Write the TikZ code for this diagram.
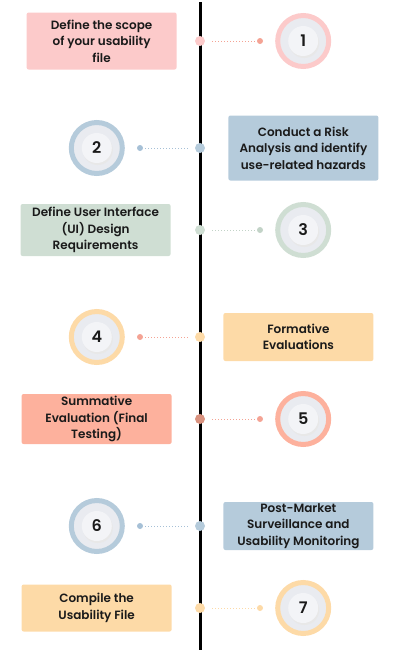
\documentclass[tikz,border=0pt]{standalone}
\usepackage{fontspec}
\setmainfont{Poppins}[UprightFont={* Medium}, BoldFont={* SemiBold}]
\usetikzlibrary{positioning}
\definecolor{pinkc}{HTML}{FCCACA}
\definecolor{bluec}{HTML}{B5CBDB}
\definecolor{greenc}{HTML}{CFDED3}
\definecolor{orangec}{HTML}{FDDAA7}
\definecolor{salmonc}{HTML}{FDB19D}
\definecolor{linkred}{HTML}{F4A394}
\definecolor{linkblue}{HTML}{A6C0D6}
\definecolor{linkgreen}{HTML}{C2D3C7}
\definecolor{dotdark}{HTML}{D9927F}
\definecolor{discgray}{HTML}{E9EBF0}
\definecolor{innergray}{HTML}{F3F4F7}
\definecolor{inkc}{HTML}{1A1A1A}
\tikzset{
  stepbox/.style={rectangle, rounded corners=2pt, minimum width=150pt, inner ysep=2pt,
    align=center, text=inkc, font=\fontsize{12}{16.5}\selectfont\bfseries},
  linedot/.style={circle, minimum size=10pt, inner sep=0pt},
  enddot/.style={circle, minimum size=6pt, inner sep=0pt},
  numring/.style={circle, draw=#1, line width=5pt, minimum size=51pt, inner sep=0pt,
    fill=discgray, text=inkc, font=\fontsize{16}{16}\selectfont\bfseries,
    path picture={
      \fill[black!9] ([shift={(1pt,-2pt)}]path picture bounding box.center) circle (15pt);
      \fill[innergray] (path picture bounding box.center) circle (15pt);
    }},
  link/.style={line width=1pt, dash pattern=on 1pt off 2pt, shorten <=7pt}
}
\begin{document}
\begin{tikzpicture}[x=1pt, y=-1pt]
  \useasboundingbox (0,0) rectangle (400,670);
  \coordinate (top) at (200,2);
  \coordinate (bottom) at (200,650);
  \draw[line width=3pt] (top) -- (bottom);

  % step 1
  \node[linedot, fill=pinkc] (d1) at (200,41) {};
  \node[stepbox, fill=pinkc, minimum height=57pt, left=18pt of d1] (s1) {Define the scope\\of your usability\\file};
  \node[numring=pinkc, right=70pt of d1] (c1) {1};
  \node[enddot, fill=linkred, left=12pt of c1] (e1) {};
  \draw[link, linkred] (d1) -- (e1);

  % step 2
  \node[linedot, fill=bluec] (d2) at (200,148) {};
  \node[stepbox, fill=bluec, minimum height=65pt, right=23pt of d2] (s2) {Conduct a Risk\\Analysis and identify\\use-related hazards};
  \node[numring=bluec, left=70pt of d2] (c2) {2};
  \node[enddot, fill=linkblue, right=12pt of c2] (e2) {};
  \draw[link, linkblue] (d2) -- (e2);

  % step 3
  \node[linedot, fill=greenc] (d3) at (200,230) {};
  \node[stepbox, fill=greenc, minimum height=52pt, left=24pt of d3] (s3) {Define User Interface\\(UI) Design\\Requirements};
  \node[numring=greenc, right=70pt of d3] (c3) {3};
  \node[enddot, fill=linkgreen, left=12pt of c3] (e3) {};
  \draw[link, linkgreen] (d3) -- (e3);

  % step 4
  \node[linedot, fill=orangec] (d4) at (200,337) {};
  \node[stepbox, fill=orangec, minimum height=48pt, right=18pt of d4] (s4) {Formative\\Evaluations};
  \node[numring=orangec, left=70pt of d4] (c4) {4};
  \node[enddot, fill=linkred, right=12pt of c4] (e4) {};
  \draw[link, linkred] (d4) -- (e4);

  % step 5
  \node[linedot, fill=dotdark] (d5) at (200,419) {};
  \node[stepbox, fill=salmonc, minimum height=50pt, inner ysep=0pt, left=23pt of d5] (s5) {Summative\\Evaluation (Final\\Testing)};
  \node[numring=salmonc, right=70pt of d5] (c5) {5};
  \node[enddot, fill=linkred, left=12pt of c5] (e5) {};
  \draw[link, linkred] (d5) -- (e5);

  % step 6
  \node[linedot, fill=bluec] (d6) at (200,526) {};
  \node[stepbox, fill=bluec, minimum height=48pt, inner ysep=0pt, right=18pt of d6] (s6) {Post-Market\\Surveillance and\\Usability Monitoring};
  \node[numring=bluec, left=70pt of d6] (c6) {6};
  \node[enddot, fill=linkblue, right=12pt of c6] (e6) {};
  \draw[link, linkblue] (d6) -- (e6);

  % step 7
  \node[linedot, fill=orangec] (d7) at (200,608) {};
  \node[stepbox, fill=orangec, minimum height=47pt, left=23pt of d7] (s7) {Compile the\\Usability File};
  \node[numring=orangec, right=70pt of d7] (c7) {7};
  \node[enddot, fill=orangec, left=12pt of c7] (e7) {};
  \draw[link, orangec] (d7) -- (e7);
\end{tikzpicture}
\end{document}
